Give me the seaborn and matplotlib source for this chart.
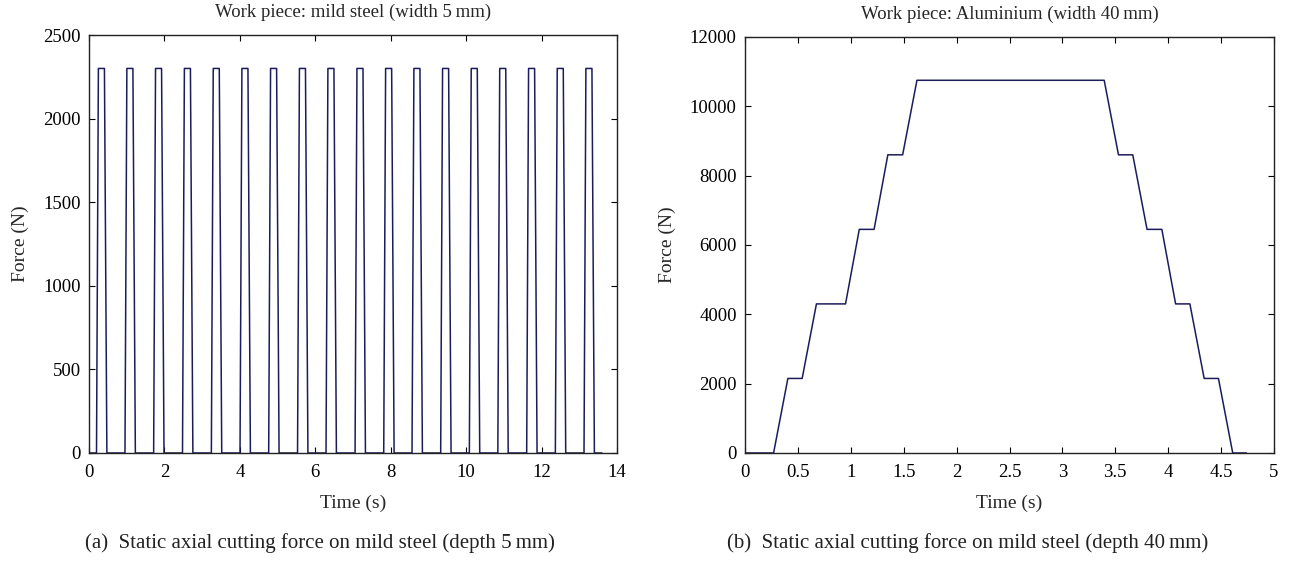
import numpy as np
import pandas as pd
import matplotlib
matplotlib.use("Agg")
import matplotlib.pyplot as plt
import seaborn as sns
from matplotlib.ticker import FuncFormatter

# ---------------- data ----------------
# (a) mild steel: pulse rise-start times (s), pulse height (N)
pulse_starts = [0.20, 0.955, 1.715, 2.48, 3.245, 4.005, 4.765, 5.53, 6.285,
                7.055, 7.815, 8.565, 9.325, 10.085, 10.84, 11.605, 12.365, 13.125]
pulse_force = 2300
pulse_rise = 0.05
pulse_top = 0.16
pulse_fall = 0.065
steel_end = 13.6

# (b) aluminium: corner points of the force profile
alu_time = [0.0, 0.27, 0.405, 0.54, 0.675, 0.95, 1.08, 1.22, 1.35, 1.49, 1.625,
            3.395, 3.53, 3.665, 3.80, 3.94, 4.07, 4.205, 4.34, 4.475, 4.61, 4.74]
alu_force = [0, 0, 2150, 2150, 4300, 4300, 6450, 6450, 8600, 8600, 10750,
             10750, 8600, 8600, 6450, 6450, 4300, 4300, 2150, 2150, 0, 0]

steel_xticks = [0, 2, 4, 6, 8, 10, 12, 14]
steel_yticks = [0, 500, 1000, 1500, 2000, 2500]
alu_xticks = [0, 0.5, 1, 1.5, 2, 2.5, 3, 3.5, 4, 4.5, 5]
alu_yticks = [0, 2000, 4000, 6000, 8000, 10000, 12000]

# build steel series from the read pulse times
st_t = [0.0]
st_f = [0]
for s in pulse_starts:
    st_t += [s, s + pulse_rise, s + pulse_rise + pulse_top,
             s + pulse_rise + pulse_top + pulse_fall]
    st_f += [0, pulse_force, pulse_force, 0]
st_t.append(steel_end)
st_f.append(0)
df_steel = pd.DataFrame({"t": st_t, "F": st_f})
df_alu = pd.DataFrame({"t": alu_time, "F": alu_force})

# ---------------- style ----------------
sns.set_style("ticks")
plt.rcParams["font.family"] = ["Liberation Serif", "DejaVu Serif"]

line_color = "#1c1c5c"
fig = plt.figure(figsize=(12.93, 5.63), dpi=100)
ax1 = fig.add_axes([0.0688, 0.1954, 0.4084, 0.7424])
ax2 = fig.add_axes([0.5762, 0.1954, 0.4091, 0.7390])

sns.lineplot(data=df_steel, x="t", y="F", ax=ax1, sort=False, estimator=None,
             color=line_color, linewidth=1.1)
sns.lineplot(data=df_alu, x="t", y="F", ax=ax2, sort=False, estimator=None,
             color=line_color, linewidth=1.1)

fmt = FuncFormatter(lambda v, p: "%g" % v)
for ax, xt, yt, title in [
    (ax1, steel_xticks, steel_yticks, "Work piece: mild steel (width 5\u2009mm)"),
    (ax2, alu_xticks, alu_yticks, "Work piece: Aluminium (width 40\u2009mm)"),
]:
    ax.set_xlim(xt[0], xt[-1])
    ax.set_ylim(yt[0], yt[-1])
    ax.set_xticks(xt)
    ax.set_yticks(yt)
    ax.xaxis.set_major_formatter(fmt)
    ax.yaxis.set_major_formatter(fmt)
    ax.tick_params(direction="in", top=True, right=True, length=4, width=0.8,
                   labelsize=13.5, colors="black")
    ax.tick_params(axis="x", pad=8)
    ax.tick_params(axis="y", pad=6)
    for sp in ax.spines.values():
        sp.set_visible(True)
        sp.set_color("#222222")
        sp.set_linewidth(1.0)
    ax.set_xlabel("Time (s)", fontsize=14, labelpad=10)
    ax.set_ylabel("Force (N)", fontsize=14, labelpad=10)
    ax.set_title(title, fontsize=13.5, pad=13)

fig.text(0.2475, 0.036, "(a)  Static axial cutting force on mild steel (depth 5\u2009mm)",
         ha="center", va="center", fontsize=15, color="#222222")
fig.text(0.748, 0.036, "(b)  Static axial cutting force on mild steel (depth 40\u2009mm)",
         ha="center", va="center", fontsize=15, color="#222222")

fig.savefig("out.png", dpi=100)
